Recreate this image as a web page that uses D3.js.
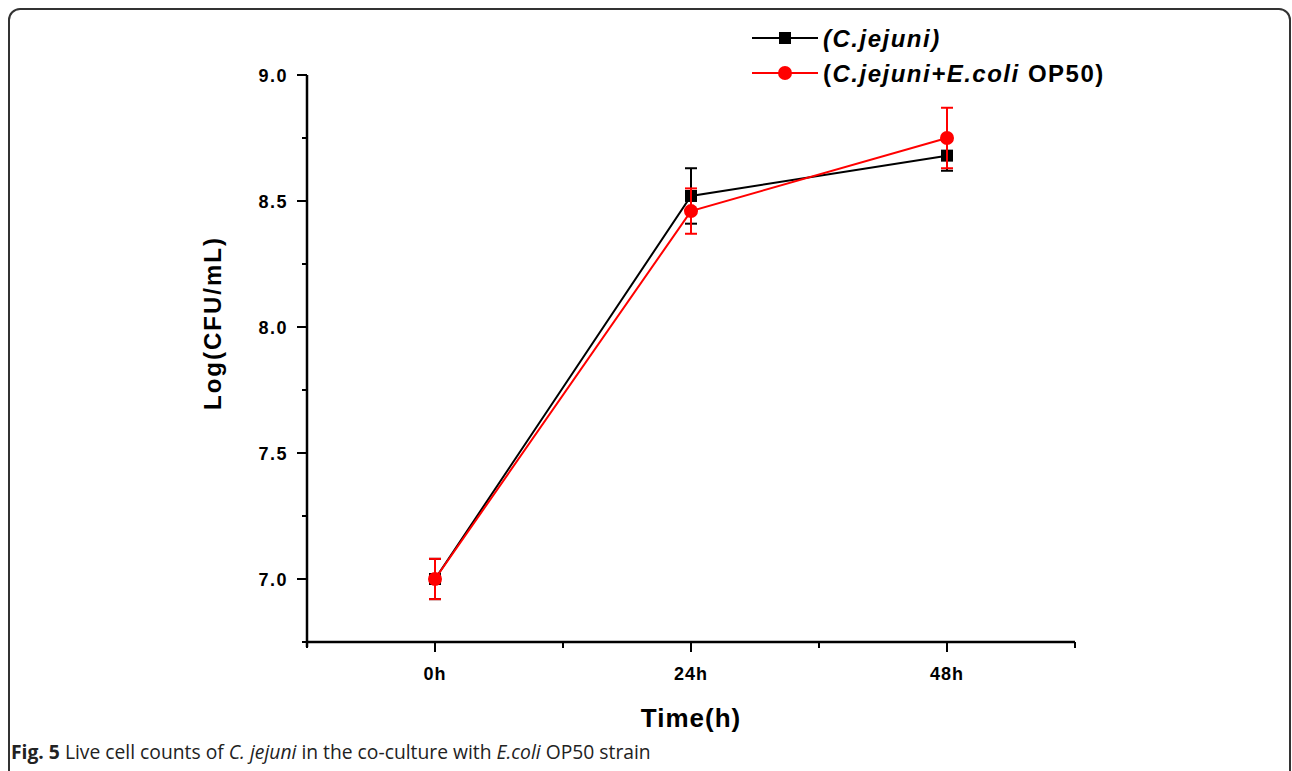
<!DOCTYPE html>
<html>
<head>
<meta charset="utf-8">
<script src="https://cdn.jsdelivr.net/npm/d3@7"></script>
<style>
  body { margin: 0; background: #fff; }
  svg { display: block; }
</style>
</head>
<body>
<div id="chart"></div>
<script>
// data
var times = ["0h", "24h", "48h"]
var cjejuni = [7.0, 8.52, 8.68]
var cjejuniErr = [0.08, 0.11, 0.06]
var coculture = [7.0, 8.46, 8.75]
var cocultureErr = [0.08, 0.09, 0.12]
var yTicks = [7.0, 7.5, 8.0, 8.5, 9.0]

var width = 1292, height = 771
var font = "Liberation Sans, Arial, sans-serif"

var svg = d3.select("#chart")
	.append("svg")
	.attr("width", width)
	.attr("height", height)

// frame round the figure
svg.append("rect")
	.attr("x", 9).attr("y", 9)
	.attr("width", 1281).attr("height", 790)
	.attr("rx", 11)
	.style("fill", "none")
	.style("stroke", "#333")
	.style("stroke-width", 2)

// scales
var x = d3.scaleLinear().domain([-0.5, 2.5]).range([307, 1075])
var y = d3.scaleLinear().domain([6.75, 9.0]).range([642, 75])

// x axis: majors at categories, minors halfway
var xAxis = svg.append("g").attr("transform", "translate(0,642)")
xAxis.append("line")
	.attr("x1", x(-0.5)).attr("x2", x(2.5))
	.style("stroke", "#000").style("stroke-width", 2.5)
d3.range(-0.5, 2.51, 0.5).forEach(function(v) {
	var major = Number.isInteger(v)
	xAxis.append("line")
		.attr("x1", x(v)).attr("x2", x(v))
		.attr("y1", 0).attr("y2", major ? 10 : 6)
		.style("stroke", "#000").style("stroke-width", 2)
})
xAxis.selectAll("text.lab")
	.data(times)
	.enter()
	.append("text")
	.attr("x", function(d, i) { return x(i) })
	.attr("y", 38)
	.attr("text-anchor", "middle")
	.style("font-family", font)
	.style("font-weight", "bold")
	.style("font-size", "18px")
	.style("letter-spacing", "1px")
	.text(function(d) { return d })

// y axis
var yAxis = svg.append("g").attr("transform", "translate(307,0)")
yAxis.append("line")
	.attr("y1", y(9.0)).attr("y2", y(6.75) + 5)
	.style("stroke", "#000").style("stroke-width", 2.5)
d3.range(6.75, 9.01, 0.25).forEach(function(v) {
	var major = yTicks.indexOf(+v.toFixed(2)) >= 0
	yAxis.append("line")
		.attr("x1", major ? -10 : -5).attr("x2", 0)
		.attr("y1", y(v)).attr("y2", y(v))
		.style("stroke", "#000").style("stroke-width", 2)
})
yAxis.selectAll("text.lab")
	.data(yTicks)
	.enter()
	.append("text")
	.attr("x", -19)
	.attr("y", function(d) { return y(d) + 7 })
	.attr("text-anchor", "end")
	.style("font-family", font)
	.style("font-weight", "bold")
	.style("font-size", "18px")
	.style("letter-spacing", "1.5px")
	.text(function(d) { return d.toFixed(1) })

// axis titles
svg.append("text")
	.attr("x", x(1)).attr("y", 727)
	.attr("text-anchor", "middle")
	.style("font-family", font)
	.style("font-weight", "bold")
	.style("font-size", "26px")
	.style("letter-spacing", "1px")
	.text("Time(h)")

svg.append("text")
	.attr("transform", "translate(221,323) rotate(-90)")
	.attr("text-anchor", "middle")
	.style("font-family", font)
	.style("font-weight", "bold")
	.style("font-size", "24px")
	.style("letter-spacing", "2px")
	.text("Log(CFU/mL)")

// series
var series = [
	{ vals: cjejuni, err: cjejuniErr, color: "#000", shape: "square" },
	{ vals: coculture, err: cocultureErr, color: "#ff0000", shape: "circle" }
]

var line = d3.line()
	.x(function(d, i) { return x(i) })
	.y(function(d) { return y(d) })

series.forEach(function(s) {
	var g = svg.append("g")
	g.append("path")
		.attr("d", line(s.vals))
		.style("fill", "none")
		.style("stroke", s.color)
		.style("stroke-width", 2)
	s.vals.forEach(function(v, i) {
		var e = s.err[i]
		g.append("line")
			.attr("x1", x(i)).attr("x2", x(i))
			.attr("y1", y(v - e)).attr("y2", y(v + e))
			.style("stroke", s.color).style("stroke-width", 2)
		;[v - e, v + e].forEach(function(c) {
			g.append("line")
				.attr("x1", x(i) - 6).attr("x2", x(i) + 6)
				.attr("y1", y(c)).attr("y2", y(c))
				.style("stroke", s.color).style("stroke-width", 2)
		})
		if (s.shape == "square") {
			g.append("rect")
				.attr("x", x(i) - 6).attr("y", y(v) - 6)
				.attr("width", 12).attr("height", 12)
				.style("fill", s.color)
		} else {
			g.append("circle")
				.attr("cx", x(i)).attr("cy", y(v)).attr("r", 7)
				.style("fill", s.color)
		}
	})
})

// legend
var legend = svg.append("g")
	.style("font-family", font)
	.style("font-weight", "bold")
	.style("font-size", "24px")
	.style("letter-spacing", "1.5px")

legend.append("line").attr("x1", 752).attr("x2", 818).attr("y1", 38).attr("y2", 38)
	.style("stroke", "#000").style("stroke-width", 2)
legend.append("rect").attr("x", 779).attr("y", 32).attr("width", 12).attr("height", 12)
	.style("fill", "#000")
var t1 = legend.append("text").attr("x", 823).attr("y", 47)
t1.append("tspan").style("font-style", "italic").text("(C.jejuni)")

legend.append("line").attr("x1", 752).attr("x2", 818).attr("y1", 73).attr("y2", 73)
	.style("stroke", "#ff0000").style("stroke-width", 2)
legend.append("circle").attr("cx", 785).attr("cy", 73).attr("r", 7)
	.style("fill", "#ff0000")
var t2 = legend.append("text").attr("x", 823).attr("y", 82)
t2.append("tspan").text("(")
t2.append("tspan").style("font-style", "italic").text("C.jejuni+E.coli")
t2.append("tspan").text(" OP50)")

// caption
var cap = svg.append("text")
	.attr("x", 11).attr("y", 759)
	.style("font-family", "Open Sans, sans-serif")
	.style("font-size", "19.3px")
	.style("fill", "#222")
cap.append("tspan").style("font-weight", "bold").text("Fig. 5")
cap.append("tspan").text(" Live cell counts of ")
cap.append("tspan").style("font-style", "italic").text("C. jejuni")
cap.append("tspan").text(" in the co-culture with ")
cap.append("tspan").style("font-style", "italic").text("E.coli")
cap.append("tspan").text(" OP50 strain")
</script>
</body>
</html>
